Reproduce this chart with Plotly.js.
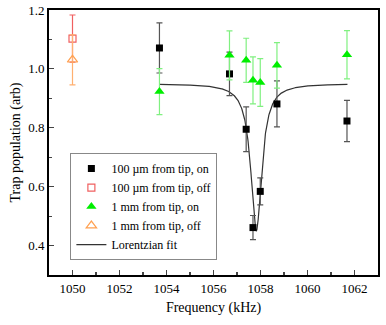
<!DOCTYPE html>
<html><head><meta charset="utf-8">
<script src="https://cdn.plot.ly/plotly-3.0.1.min.js"></script>
<style>body{margin:0;padding:0;background:#fff}#c{width:386px;height:325px}</style>
</head><body><div id="c"></div>
<script>
// 100 µm from tip, on
const nearOnX = [1053.7, 1056.68, 1057.39, 1057.68, 1057.99, 1058.70, 1061.68];
const nearOnY = [1.071, 0.983, 0.795, 0.461, 0.584, 0.881, 0.823];
const nearOnErr = [0.085, 0.074, 0.076, 0.041, 0.046, 0.078, 0.070];
// 100 µm from tip, off
const nearOffX = [1050];
const nearOffY = [1.103];
const nearOffErr = [0.080];
// 1 mm from tip, on
const farOnX = [1053.7, 1056.68, 1057.39, 1057.68, 1057.99, 1058.70, 1061.68];
const farOnY = [0.923, 1.046, 1.029, 0.961, 0.954, 1.012, 1.048];
const farOnErr = [0.078, 0.083, 0.075, 0.080, 0.081, 0.077, 0.082];
// 1 mm from tip, off
const farOffX = [1050];
const farOffY = [1.031];
const farOffErr = [0.085];
// Lorentzian fit parameters
const fitX0 = 1057.82, fitHalfWidth = 0.28, fitBase = 0.95, fitDepth = 0.50;
const fitRange = [1053.7, 1061.7];

const fx = [], fy = [];
const n = 600;
for (let i = 0; i <= n; i++) {
  const x = fitRange[0] + (fitRange[1] - fitRange[0]) * i / n;
  const g2 = fitHalfWidth * fitHalfWidth;
  fx.push(x);
  fy.push(fitBase - fitDepth * g2 / ((x - fitX0) * (x - fitX0) + g2));
}

const FAM = 'Liberation Serif';

const traces = [
  {x: fx, y: fy, mode: 'lines', name: 'Lorentzian fit', line: {color: '#333', width: 1.2}, showlegend: false},
  {x: nearOnX, y: nearOnY, mode: 'markers', name: '100 µm from tip, on',
   marker: {symbol: 'square', size: 7, color: '#000'},
   error_y: {type: 'data', array: nearOnErr, visible: true, color: '#555', thickness: 1.2, width: 3}},
  {x: nearOffX, y: nearOffY, mode: 'markers', name: '100 µm from tip, off',
   marker: {symbol: 'square-open', size: 7, color: '#f06060', line: {width: 1.2}},
   error_y: {type: 'data', array: nearOffErr, visible: true, color: '#f06060', thickness: 1.2, width: 3}},
  {x: farOnX, y: farOnY, mode: 'markers', name: '1 mm from tip, on',
   marker: {symbol: 'triangle-up', size: 9, color: '#00ee00'},
   error_y: {type: 'data', array: farOnErr, visible: true, color: '#80f080', thickness: 1.2, width: 3}},
  {x: farOffX, y: farOffY, mode: 'markers', name: '1 mm from tip, off',
   marker: {symbol: 'triangle-up-open', size: 9, color: '#ffa050', line: {width: 1.2}},
   error_y: {type: 'data', array: farOffErr, visible: true, color: '#ffb070', thickness: 1.2, width: 3}},
  {x: [null], y: [null], mode: 'lines', name: 'Lorentzian fit', line: {color: '#333', width: 1.2}}
];

const layout = {
  width: 386, height: 325,
  margin: {l: 49, r: 8, t: 10, b: 50},
  paper_bgcolor: '#fff', plot_bgcolor: '#fff',
  showlegend: true,
  legend: {x: 0.065, y: 0.46, xanchor: 'left', yanchor: 'top', bgcolor: '#fff',
           bordercolor: '#888', borderwidth: 1, font: {family: FAM, size: 12},
           tracegroupgap: 0, itemwidth: 30},
  xaxis: {range: [1049, 1063], dtick: 2, tick0: 1050, ticks: 'inside', ticklen: 5, tickwidth: 1.2,
          minor: {dtick: 1, ticks: 'inside', ticklen: 3, tickwidth: 1.2},
          showline: true, linewidth: 2, linecolor: '#000', mirror: true, showgrid: false, zeroline: false,
          tickfont: {family: FAM, size: 13},
          title: {text: 'Frequency (kHz)', font: {family: FAM, size: 14}, standoff: 8}},
  yaxis: {range: [0.3, 1.2], dtick: 0.2, tick0: 0.4, ticks: 'inside', ticklen: 5, tickwidth: 1.2,
          tickformat: '.1f',
          minor: {dtick: 0.1, ticks: 'inside', ticklen: 3, tickwidth: 1.2},
          showline: true, linewidth: 2, linecolor: '#000', mirror: true, showgrid: false, zeroline: false,
          tickfont: {family: FAM, size: 13},
          title: {text: 'Trap population (arb)', font: {family: FAM, size: 14}, standoff: 4}}
};

Plotly.newPlot('c', traces, layout, {displayModeBar: false, staticPlot: true}).then(function () {
  document.querySelectorAll('#c text').forEach(function (t) { t.style.fill = '#000'; });
});
</script></body></html>
